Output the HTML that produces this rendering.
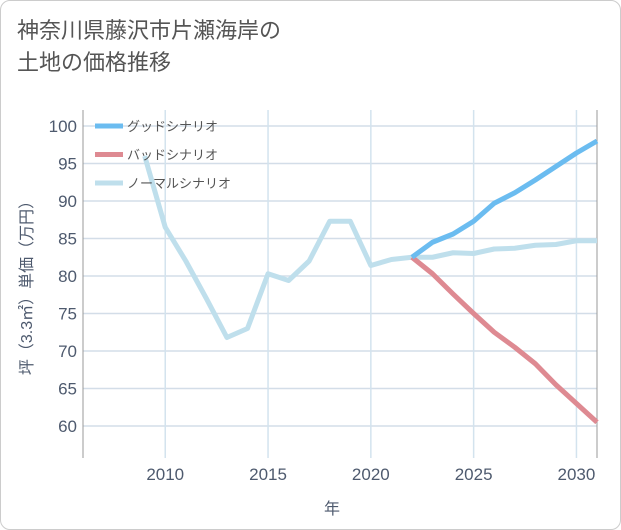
<!DOCTYPE html>
<html><head><meta charset="utf-8"><style>
body{margin:0;background:#fff;font-family:"Liberation Sans","Noto Sans CJK JP",sans-serif;}
#card{position:absolute;left:0;top:0;width:619px;height:528px;border:1px solid #ccc;border-radius:10px;background:#fff;}
#title{position:absolute;left:16px;top:14px;font-size:22px;line-height:32px;color:#555;}
</style></head><body>
<div id="card">
<div id="title">神奈川県藤沢市片瀬海岸の<br>土地の価格推移</div>
<svg id="chart" width="621" height="530" style="position:absolute;left:-1px;top:-1px"></svg>
</div>
<script>
const years=[2009,2010,2011,2012,2013,2014,2015,2016,2017,2018,2019,2020,2021,2022,2023,2024,2025,2026,2027,2028,2029,2030,2031];
const normal=[96,86.5,82,77,71.8,73,80.3,79.4,82,87.3,87.3,81.4,82.2,82.5,82.5,83.1,83.0,83.6,83.7,84.1,84.2,84.7,84.7];
const goodYears=[2022,2023,2024,2025,2026,2027,2028,2029,2030,2031];
const good=[82.5,84.5,85.6,87.3,89.7,91.1,92.8,94.6,96.4,98];
const bad=[82.5,80.3,77.6,75.0,72.5,70.5,68.3,65.5,63.0,60.5];
const yTicks=[60,65,70,75,80,85,90,95,100];
const xTicks=[2010,2015,2020,2025,2030];
const legendLabels=["グッドシナリオ","バッドシナリオ","ノーマルシナリオ"];
const colors=["#6bbcf0","#de8a92","#bfdfec"];
const L=83,R=597,T=110,B=458;
const X=v=>L+(v-2006)*(R-L)/25;
const Y=v=>426-(v-60)*7.5;
const svg=document.getElementById('chart');
const NS='http://www.w3.org/2000/svg';
function mk(t,a){const e=document.createElementNS(NS,t);for(const k in a)e.setAttribute(k,a[k]);svg.appendChild(e);return e;}
let bg=mk('rect',{x:L,y:T,width:R-L,height:B-T,fill:'#fff'});


yTicks.forEach(v=>{
 let g=mk('line',{x1:L,x2:R,y1:Y(v),y2:Y(v),stroke:'#d3dde8','stroke-width':1.5});
 
 
 let t=mk('text',{x:L-6,y:Y(v)+6,'text-anchor':'end','font-size':17,fill:'#4e5a6e'});t.textContent=v;
 
 
});
xTicks.forEach(v=>{
 let g=mk('line',{x1:X(v),x2:X(v),y1:T,y2:B,stroke:'#d3e3ee','stroke-width':1.5});
 
 
 let t=mk('text',{x:X(v),y:B+22,'text-anchor':'middle','font-size':17,fill:'#4e5a6e'});t.textContent=v;
 
 
});
let ax=mk('line',{x1:L,x2:L,y1:T,y2:B,stroke:'#999','stroke-width':1});


let ax2=mk('line',{x1:R,x2:R,y1:T,y2:B,stroke:'#999','stroke-width':1});


function line(xs,ys,c,name){
 const p=mk('polyline',{points:xs.map((x,i)=>X(x)+','+Y(ys[i])).join(' '),fill:'none',stroke:c,'stroke-width':5,'stroke-linejoin':'round'});
 
 
}
line(years,normal,colors[2],'normal-scenario-line');
line(goodYears,bad,colors[1],'bad-scenario-line');
line(goodYears,good,colors[0],'good-scenario-line');
legendLabels.forEach((s,i)=>{
 const y=126+i*28.5;
 let l=mk('line',{x1:95,x2:123,y1:y,y2:y,stroke:colors[i],'stroke-width':5});
 
 
 let t=mk('text',{x:127,y:y+5,'font-size':13,fill:'#555'});t.textContent=s;
 
 
});
let xt=mk('text',{x:332,y:514,'text-anchor':'middle','font-size':16,fill:'#4e5a6e'});xt.textContent='年';


let yt=mk('text',{x:0,y:0,'text-anchor':'middle','font-size':16,fill:'#4e5a6e',transform:'translate(32,284) rotate(-90)'});yt.textContent='坪（3.3㎡）単価（万円）';


</script>
</body></html>
